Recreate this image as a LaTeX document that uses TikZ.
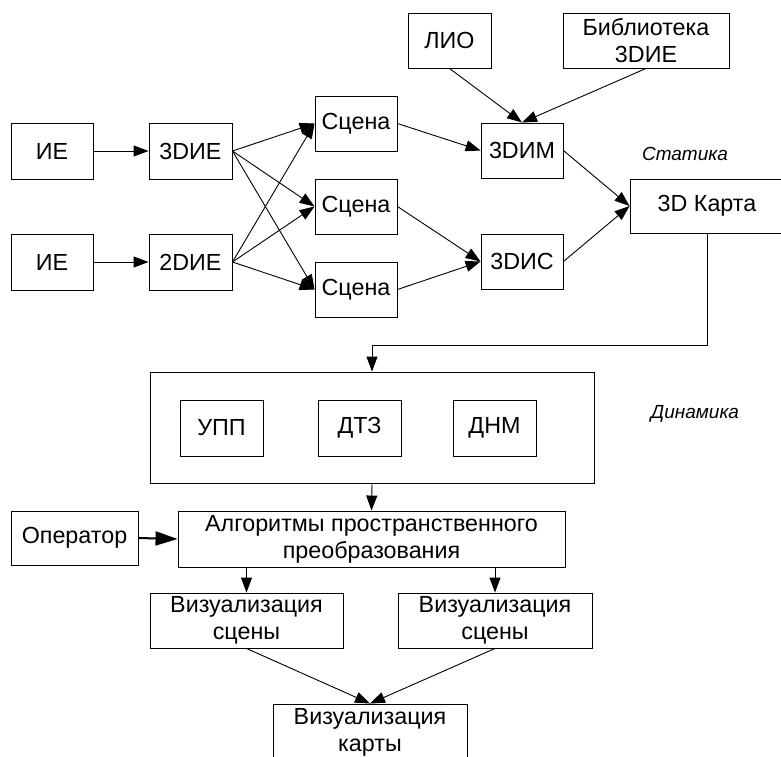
\documentclass[tikz,border=0pt]{standalone}
\usepackage{fontspec}
\setmainfont{Liberation Sans}
\usetikzlibrary{arrows.meta}
\tikzset{
  box/.style={draw=black, line width=0.9pt, inner sep=0pt, align=center,
    font=\fontsize{23.3}{27}\selectfont},
  arr/.style={draw=black, line width=0.9pt, -{Triangle[length=15pt,width=11pt]}},
  thickarr/.style={draw=black, line width=2pt, -{Triangle[length=22pt,width=14pt]}},
  lbl/.style={font=\fontsize{19}{22}\selectfont\itshape, inner sep=0pt}
}
\begin{document}
\begin{tikzpicture}[x=1pt,y=-1pt]
\useasboundingbox (0,0) rectangle (781,756);
% top part
\node[box, minimum width=82pt, minimum height=56pt] (ie1) at (52,151) {ИЕ};
\node[box, minimum width=83pt, minimum height=56pt] (d3ie) at (190.5,151) {3DИЕ};
\node[box, minimum width=82pt, minimum height=56pt] (ie2) at (52,262) {ИЕ};
\node[box, minimum width=83pt, minimum height=56pt] (d2ie) at (190.5,262) {2DИЕ};
\node[box, minimum width=82pt, minimum height=55pt] (sc1) at (356,123.5) {Сцена};
\node[box, minimum width=82pt, minimum height=55pt] (sc2) at (356,206.5) {Сцена};
\node[box, minimum width=82pt, minimum height=55pt] (sc3) at (356,289.5) {Сцена};
\node[box, minimum width=83pt, minimum height=55pt] (lio) at (449.5,40.5) {ЛИО};
\node[box, minimum width=166pt, minimum height=55pt] (lib) at (646,40.5) {Библиотека\\3DИЕ};
\node[box, minimum width=82pt, minimum height=55pt] (dim) at (522,150.5) {3DИМ};
\node[box, minimum width=82pt, minimum height=55pt] (dis) at (522,261.5) {3DИС};
\node[box, minimum width=154pt, minimum height=54pt] (map) at (707,206) {3D Карта};
\node[lbl] (stat) at (685,154) {Статика};
% dynamics
\node[box, minimum width=444pt, minimum height=111pt] (big) at (372,427.5) {};
\node[box, minimum width=83pt, minimum height=56pt] (upp) at (221.5,428) {УПП};
\node[box, minimum width=83pt, minimum height=56pt] (dtz) at (359.5,428) {ДТЗ};
\node[box, minimum width=83pt, minimum height=56pt] (dnm) at (494.5,428) {ДНМ};
\node[lbl] (dyn) at (695,414) {Динамика};
% bottom
\node[box, minimum width=127pt, minimum height=54pt] (op) at (74.5,538) {Оператор};
\node[box, minimum width=387pt, minimum height=56pt] (alg) at (371.5,539) {Алгоритмы пространственного\\преобразования};
\node[box, minimum width=193pt, minimum height=55pt] (vis1) at (246.5,620.5) {Визуализация\\сцены};
\node[box, minimum width=194pt, minimum height=55pt] (vis2) at (495,620.5) {Визуализация\\сцены};
\node[box, minimum width=194pt, minimum height=56pt] (visk) at (370,732) {Визуализация\\карты};
\coordinate (bend) at (707,345);
% connectors
\draw[arr] (ie1.east) -- (d3ie.west);
\draw[arr] (ie2.east) -- (d2ie.west);
\foreach \s in {sc1,sc2,sc3} {
  \draw[arr] (d3ie.east) -- (\s.west);
  \draw[arr] (d2ie.east) -- (\s.west);
}
\draw[arr] (sc1.east) -- (dim.west);
\draw[arr] (sc2.east) -- (dis.west);
\draw[arr] (sc3.east) -- (dis.west);
\draw[arr] (lio.south) -- (dim.north);
\draw[arr] (lib.south) -- (dim.north);
\draw[arr] (dim.east) -- (map.west);
\draw[arr] (dis.east) -- (map.west);
\draw[arr] (map.south) -- (bend) -| (big.north);
\draw[arr] (big.south) -- (alg.north);
\draw[thickarr] (op.east) -- (alg.west);
\draw[arr] (vis1.north |- alg.south) -- (vis1.north);
\draw[arr] (vis2.north |- alg.south) -- (vis2.north);
\draw[arr] (vis1.south) -- (visk.north);
\draw[arr] (vis2.south) -- (visk.north);
\end{tikzpicture}
\end{document}
